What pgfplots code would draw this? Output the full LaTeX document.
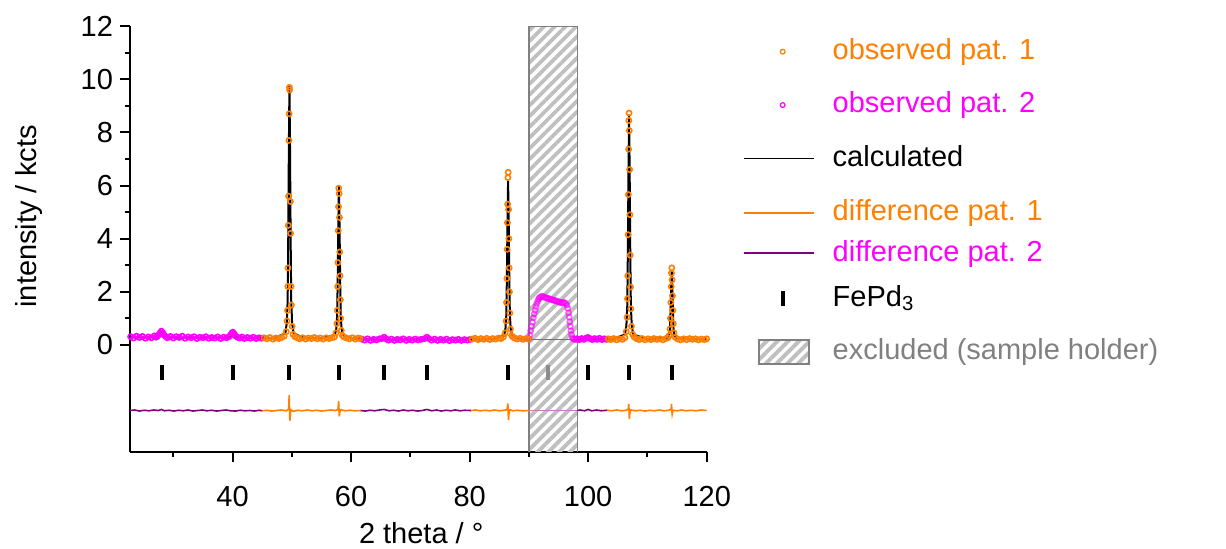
\documentclass[border=0pt]{standalone}
\usepackage{fontspec}
\setmainfont{Liberation Sans}
\usepackage{pgfplots}
\pgfplotsset{compat=1.18}
\usetikzlibrary{patterns.meta}

\definecolor{myorange}{RGB}{255,127,0}
\definecolor{mymag}{RGB}{255,0,255}
\definecolor{mypurple}{RGB}{128,0,128}
\newcommand{\ls}[2]{\rule[-#2]{0pt}{\dimexpr#1+#2\relax}}
\newcommand{\fs}{\fontsize{14.5}{17}\selectfont}
\newcommand{\lw}{\path[draw=none, fill=none] (0pt,0pt) -- (44.5pt,0pt);}

\begin{document}
\begin{tikzpicture}
\path[use as bounding box] (-65pt,-48.65pt) rectangle (548pt,225.85pt);
\begin{axis}[
  scale only axis, width=288.35pt, height=212.75pt,
  xmin=22.7, xmax=120, ymin=-4.02, ymax=12,
  axis x line=bottom, axis y line=left,
  axis line style={-, line width=1pt},
  tick align=outside, major tick length=5pt, minor tick length=2.5pt,
  every tick/.style={black, line width=1pt},
  xtick={40,60,...,120}, minor xtick={30,50,...,110},
  ytick={0,2,...,12}, minor ytick={1,3,...,11},
  tick label style={font=\fs},
  xticklabel style={yshift=-8.5pt},
  /pgf/number format/assume math mode=true,
  xlabel={2 theta / °}, ylabel={intensity / kcts},
  label style={font=\fs},
  xlabel style={at={(axis description cs:0.505,-0.2146)}, anchor=base},
  ylabel style={at={(axis description cs:-0.175,0.553)}, anchor=center},
  legend cell align=left,
  legend style={at={(1.0624,1.021)}, anchor=north west, draw=none, fill=none,
    inner sep=0pt, outer sep=0pt, row sep=0pt, column sep=0pt,
    nodes={inner sep=0pt, text depth=}, font=\fs},
]

% legend
\addlegendimage{legend image code/.code={\path[draw=myorange, line width=0.6pt] plot[mark=o, mark size=1.2pt] coordinates {(19.5pt,0pt)}; \lw}}
\addlegendentry{\textcolor{myorange}{observed pat. 1}\ls{21pt}{13.4pt}}
\addlegendimage{legend image code/.code={\path[draw=mymag, line width=0.6pt] plot[mark=o, mark size=1.2pt] coordinates {(19.5pt,0pt)}; \lw}}
\addlegendentry{\textcolor{mymag}{observed pat. 2}\ls{13.3pt}{5.7pt}}
\addlegendimage{legend image code/.code={\draw[black, line width=0.8pt] (0pt,0pt) -- (35.3pt,0pt); \lw}}
\addlegendentry{calculated\ls{21pt}{13.4pt}}
\addlegendimage{legend image code/.code={\draw[myorange, line width=0.8pt] (0pt,0pt) -- (35.3pt,0pt); \lw}}
\addlegendentry{\textcolor{myorange}{difference pat. 1}\ls{13.8pt}{6.2pt}}
\addlegendimage{legend image code/.code={\draw[mypurple, line width=1pt] (0pt,0pt) -- (35.3pt,0pt); \lw}}
\addlegendentry{\textcolor{mymag}{difference pat. 2}\ls{14.1pt}{6.5pt}}
\addlegendimage{legend image code/.code={\draw[black, line width=2pt] (19.5pt,-3.75pt) -- (19.5pt,3.75pt); \lw}}
\addlegendentry{FePd\textsubscript{3}\ls{16pt}{8.4pt}}
\addlegendimage{legend image code/.code={\path[pattern={Lines[angle=45,distance=3.8pt,line width=1.9pt]}, pattern color=black!25] (7.65pt,-6pt) rectangle (32.65pt,6pt); \draw[black!50, line width=0.75pt] (7.65pt,-6pt) rectangle (32.65pt,6pt); \lw}}
\addlegendentry{\textcolor{black!50}{excluded (sample holder)}\ls{18.3pt}{10.7pt}}

% excluded region (sample holder), drawn first
\addplot[draw=none, pattern={Lines[angle=45,distance=3.8pt,line width=1.9pt]}, pattern color=black!25, forget plot] coordinates {
(90,-4.02)(90,12)(98.2,12)(98.2,-4.02)(90,-4.02)
};
\addplot[black!50, line width=0.75pt, forget plot] coordinates {
(90,-4.02)(90,12)(98.2,12)(98.2,-4.02)
};

% observed pattern 2 (magenta)
\addplot[only marks, mark=o, mark size=1.3pt, mark options={line width=0.8pt}, mymag, forget plot] coordinates {
(22.8,0.31)(23.3,0.26)(23.8,0.33)(24.3,0.28)(24.8,0.32)(25.3,0.25)(25.8,0.30)(26.3,0.27)(26.8,0.34)(27.1,0.29)
(27.3,0.33)(27.55,0.38)(27.8,0.46)(28.0,0.52)(28.25,0.45)(28.5,0.36)(28.75,0.31)
(29.0,0.27)(29.5,0.32)(30.0,0.26)(30.5,0.31)(31.0,0.28)(31.5,0.33)(32.0,0.25)(32.5,0.30)(33.0,0.27)(33.5,0.31)
(34.0,0.24)(34.5,0.29)(35.0,0.27)(35.5,0.31)(36.0,0.25)(36.5,0.28)(37.0,0.26)(37.5,0.30)(38.0,0.24)(38.5,0.29)(39.0,0.27)
(39.4,0.31)(39.65,0.37)(39.85,0.44)(40.05,0.48)(40.3,0.41)(40.55,0.33)
(40.8,0.29)(41.2,0.26)(41.6,0.30)(42.0,0.24)(42.5,0.28)(43.0,0.25)(43.5,0.29)(44.0,0.24)(44.5,0.27)(44.9,0.25)
(61.8,0.22)(62.3,0.18)(62.8,0.23)(63.3,0.17)(63.8,0.21)(64.3,0.19)(64.8,0.23)(65.2,0.24)(65.58,0.29)(65.9,0.23)
(66.3,0.18)(66.8,0.22)(67.3,0.17)(67.8,0.21)(68.3,0.19)(68.8,0.23)(69.3,0.17)(69.8,0.21)(70.3,0.18)(70.8,0.22)
(71.3,0.19)(71.8,0.21)(72.3,0.23)(72.78,0.29)(73.1,0.24)(73.6,0.18)(74.1,0.22)(74.6,0.17)(75.1,0.21)(75.6,0.18)
(76.1,0.22)(76.6,0.16)(77.1,0.20)(77.6,0.18)(78.1,0.21)(78.6,0.17)(79.1,0.20)(79.6,0.18)(80.1,0.21)
(98.1,0.23)(98.5,0.20)(98.9,0.24)(99.3,0.21)(99.7,0.26)(99.97,0.28)(100.3,0.24)(100.7,0.20)(101.1,0.24)(101.5,0.21)
(101.9,0.25)(102.3,0.20)(102.7,0.23)(103.1,0.21)
};
% observed pattern 2 inside the excluded range
\addplot[only marks, mark=o, mark size=1.3pt, mark options={line width=0.8pt}, mymag, opacity=0.6, forget plot] coordinates {
(90.0,0.23)(90.15,0.37)(90.3,0.53)(90.45,0.70)(90.6,0.86)(90.75,1.02)(90.9,1.17)(91.05,1.31)(91.2,1.44)(91.35,1.55)
(91.5,1.65)(91.65,1.73)(91.8,1.78)(92.0,1.81)(92.2,1.83)(92.4,1.82)(92.6,1.80)(92.8,1.78)(93.0,1.77)(93.2,1.75)
(93.4,1.74)(93.6,1.72)(93.8,1.71)(94.0,1.70)(94.2,1.68)(94.4,1.67)(94.6,1.65)(94.8,1.64)(95.0,1.62)(95.2,1.61)
(95.4,1.59)(95.6,1.58)(95.8,1.60)(96.0,1.59)(96.2,1.56)(96.4,1.50)(96.55,1.38)(96.7,1.21)(96.8,1.05)(96.9,0.87)
(97.0,0.70)(97.1,0.53)(97.2,0.39)(97.35,0.27)(97.5,0.21)(97.7,0.22)(97.9,0.20)
};

% observed pattern 1 (orange)
\addplot[only marks, mark=o, mark size=1.3pt, mark options={line width=0.8pt}, myorange, forget plot] coordinates {
(45.3,0.27)(45.8,0.23)(46.3,0.28)(46.8,0.22)(47.3,0.26)(47.8,0.24)(48.3,0.28)(48.7,0.33)
(49.05,0.5)(49.2,0.9)(49.27,1.3)(49.33,2.2)(49.36,2.9)(49.41,4.5)(49.45,5.6)(49.51,7.7)(49.55,8.7)(49.6,9.7)
(49.63,9.6)(49.76,5.4)(49.79,4.2)(49.87,2.2)(49.92,1.5)(50.05,0.7)(50.2,0.4)
(50.5,0.31)(50.9,0.27)(51.3,0.23)(51.8,0.27)(52.3,0.22)(52.8,0.26)(53.3,0.24)(53.8,0.28)(54.3,0.23)(54.8,0.26)
(55.3,0.22)(55.8,0.27)(56.3,0.24)(56.8,0.27)(57.2,0.30)
(57.45,0.45)(57.61,0.8)(57.68,1.3)(57.74,2.2)(57.79,3.1)(57.84,4.3)(57.88,5.2)(57.92,5.9)
(57.99,5.7)(58.04,4.8)(58.09,3.5)(58.14,2.6)(58.19,1.7)(58.25,1.0)(58.35,0.55)(58.55,0.35)
(58.8,0.30)(59.2,0.26)(59.7,0.23)(60.2,0.27)(60.7,0.22)(61.2,0.26)(61.5,0.24)
(80.4,0.22)(80.9,0.25)(81.4,0.20)(81.9,0.24)(82.4,0.21)(82.9,0.25)(83.4,0.20)(83.9,0.24)(84.4,0.22)(84.9,0.26)
(85.3,0.24)(85.7,0.30)
(85.99,0.45)(86.16,0.9)(86.23,1.6)(86.29,2.5)(86.34,3.6)(86.38,4.6)(86.42,5.3)(86.46,6.3)
(86.5,6.5)(86.57,5.1)(86.62,4.0)(86.67,2.9)(86.72,2.0)(86.78,1.2)(86.89,0.6)(87.09,0.35)
(87.3,0.30)(87.6,0.26)(88.0,0.22)(88.5,0.25)(89.0,0.21)(89.5,0.24)(89.9,0.22)
(103.4,0.23)(103.8,0.20)(104.3,0.24)(104.8,0.19)(105.3,0.23)(105.8,0.21)(106.2,0.27)
(106.42,0.5)(106.57,1.04)(106.63,1.74)(106.68,2.6)(106.74,4.15)(106.78,5.66)(106.83,7.37)(106.87,8.45)
(106.9,8.73)(106.94,8.07)(106.99,6.6)(107.04,4.9)(107.09,3.38)(107.15,2.18)(107.2,1.36)(107.3,0.7)(107.5,0.4)
(107.75,0.30)(108.1,0.24)(108.6,0.20)(109.1,0.24)(109.6,0.19)(110.1,0.23)(110.6,0.20)(111.1,0.24)(111.6,0.21)
(112.1,0.23)(112.6,0.19)(113.1,0.24)(113.45,0.27)
(113.65,0.35)(113.8,0.6)(113.88,1.0)(113.95,1.6)(114.01,2.2)(114.06,2.7)
(114.11,2.9)(114.16,2.45)(114.22,1.85)(114.28,1.3)(114.36,0.8)(114.48,0.45)
(114.7,0.28)(115.1,0.22)(115.6,0.19)(116.1,0.23)(116.6,0.20)(117.1,0.24)(117.6,0.21)(118.1,0.23)(118.6,0.19)
(119.1,0.22)(119.6,0.20)(120.0,0.23)
};

% calculated
\addplot[black, line width=1pt, forget plot] coordinates {
(22.7,0.28)(25,0.28)(27.2,0.29)(27.5,0.32)(27.75,0.40)(28.03,0.48)(28.3,0.40)(28.55,0.32)(28.9,0.29)
(32,0.27)(36,0.27)(39.3,0.28)(39.6,0.32)(39.8,0.39)(40.05,0.45)(40.3,0.38)(40.55,0.31)(40.9,0.28)
(44,0.26)(47,0.25)(48.9,0.44)(49.15,0.82)(49.3,1.68)(49.4,4.05)(49.5,7.38)(49.6,9.75)(49.7,7.38)(49.8,4.05)
(49.9,1.68)(50.05,0.82)(50.3,0.44)(52,0.26)(55,0.25)
(57.25,0.37)(57.5,0.6)(57.65,1.11)(57.75,2.55)(57.85,4.56)(57.95,6.0)(58.05,4.56)(58.15,2.55)(58.25,1.11)
(58.4,0.6)(58.65,0.37)(60,0.24)(62,0.21)(65.1,0.2)(65.58,0.28)(66.0,0.2)(69,0.2)(72.3,0.2)(72.78,0.28)(73.2,0.2)
(77,0.19)(80,0.2)(84,0.22)(85.79,0.35)(86.04,0.59)(86.19,1.12)(86.29,2.61)(86.39,4.69)(86.49,6.18)(86.59,4.69)
(86.69,2.61)(86.79,1.12)(86.94,0.59)(87.19,0.35)(88.5,0.22)(90,0.2)
};
\addplot[black!55, line width=0.8pt, forget plot] coordinates {
(90,0.2)(94,0.2)(98.2,0.2)
};
\addplot[black, line width=1pt, forget plot] coordinates {
(98.2,0.2)(99.6,0.22)(99.97,0.27)(100.3,0.22)
(104,0.21)(106.2,0.39)(106.45,0.73)(106.6,1.49)(106.7,3.6)(106.8,6.56)(106.9,8.67)(107.0,6.56)(107.1,3.6)
(107.2,1.49)(107.35,0.73)(107.6,0.39)(110,0.22)(113.4,0.27)(113.65,0.37)(113.8,0.6)(113.9,1.24)(114.0,2.13)
(114.1,2.77)(114.2,2.13)(114.3,1.24)(114.4,0.6)(114.55,0.37)(114.8,0.27)(117,0.22)(120,0.22)
};

% difference curves
\addplot[mypurple, line width=0.8pt, forget plot] coordinates {
(22.7,-2.47)(23.5,-2.45)(24.3,-2.49)(25.1,-2.46)(25.9,-2.48)(26.7,-2.45)(27.5,-2.47)(28.0,-2.43)(28.5,-2.48)
(29.3,-2.46)(30.1,-2.49)(30.9,-2.46)(31.7,-2.48)(32.5,-2.45)(33.3,-2.49)(34.1,-2.47)(34.9,-2.45)(35.7,-2.48)
(36.5,-2.46)(37.3,-2.49)(38.1,-2.47)(38.9,-2.45)(39.7,-2.48)(40.5,-2.49)(41.3,-2.46)(42.1,-2.48)(42.9,-2.47)
(43.7,-2.49)(44.5,-2.46)(45.0,-2.48)
};
\addplot[myorange, line width=0.8pt, forget plot] coordinates {
(45.0,-2.48)(45.8,-2.46)(46.6,-2.49)(47.4,-2.47)(48.2,-2.45)(49.0,-2.48)(49.4,-2.44)(49.5,-2.32)(49.55,-1.89)
(49.6,-2.32)(49.65,-2.71)(49.7,-2.85)(49.75,-2.61)(49.85,-2.44)(50.2,-2.50)(51.0,-2.46)(51.8,-2.48)(52.6,-2.45)
(53.4,-2.48)(54.2,-2.46)(55.0,-2.49)(55.8,-2.47)(56.6,-2.45)(57.4,-2.47)(57.8,-2.42)(57.9,-2.12)(57.95,-2.37)
(58.0,-2.69)(58.1,-2.53)(58.3,-2.44)(59.0,-2.48)(59.8,-2.46)(60.6,-2.48)(61.6,-2.47)
};
\addplot[mypurple, line width=0.8pt, forget plot] coordinates {
(61.6,-2.47)(62.4,-2.49)(63.2,-2.46)(64.0,-2.48)(64.8,-2.45)(65.6,-2.43)(66.4,-2.48)(67.2,-2.46)(68.0,-2.49)
(68.8,-2.45)(69.6,-2.48)(70.4,-2.46)(71.2,-2.49)(72.0,-2.47)(72.8,-2.43)(73.6,-2.48)(74.4,-2.45)(75.2,-2.49)
(76.0,-2.46)(76.8,-2.48)(77.6,-2.45)(78.4,-2.48)(79.2,-2.46)(80.2,-2.47)
};
\addplot[myorange, line width=0.8pt, forget plot] coordinates {
(80.2,-2.47)(81.0,-2.45)(81.8,-2.48)(82.6,-2.46)(83.4,-2.48)(84.2,-2.45)(85.0,-2.48)(85.8,-2.46)(86.3,-2.44)
(86.4,-2.30)(86.45,-2.20)(86.5,-2.51)(86.55,-2.82)(86.62,-2.61)(86.75,-2.44)(87.3,-2.48)(88.1,-2.46)(88.9,-2.48)
(90.0,-2.47)
};
\addplot[mypurple!50, line width=0.8pt, forget plot] coordinates {
(90.0,-2.47)(94.0,-2.47)(98.2,-2.47)
};
\addplot[mypurple, line width=0.8pt, forget plot] coordinates {
(98.2,-2.47)(98.6,-2.45)(99.4,-2.48)(100.0,-2.43)(100.6,-2.48)(101.4,-2.45)(102.2,-2.48)(103.2,-2.46)
};
\addplot[myorange, line width=0.8pt, forget plot] coordinates {
(103.2,-2.46)(104.0,-2.48)(104.8,-2.45)(105.6,-2.48)(106.4,-2.46)(106.75,-2.42)(106.85,-2.22)(106.9,-2.47)
(106.95,-2.79)(107.02,-2.59)(107.2,-2.45)(108.0,-2.48)(108.8,-2.46)(109.6,-2.49)(110.4,-2.46)(111.2,-2.48)
(112.0,-2.45)(112.8,-2.48)(113.6,-2.46)(114.0,-2.42)(114.07,-2.22)(114.12,-2.50)(114.17,-2.61)(114.3,-2.46)
(115.0,-2.48)(115.8,-2.45)(116.6,-2.48)(117.4,-2.46)(118.2,-2.48)(119.0,-2.45)(120.0,-2.47)
};

% FePd3 reflection positions
\addplot[only marks, mark=|, mark size=3.75pt, mark options={line width=2pt}, black, forget plot] coordinates {
(28.03,-1.04)(40.05,-1.04)(49.6,-1.04)(57.95,-1.04)(65.58,-1.04)(72.78,-1.04)(86.49,-1.04)
(99.97,-1.04)(106.9,-1.04)(114.1,-1.04)
};
\addplot[only marks, mark=|, mark size=3.75pt, mark options={line width=2pt}, black!45, forget plot] coordinates {
(93.21,-1.04)
};
\end{axis}
\end{tikzpicture}
\end{document}
